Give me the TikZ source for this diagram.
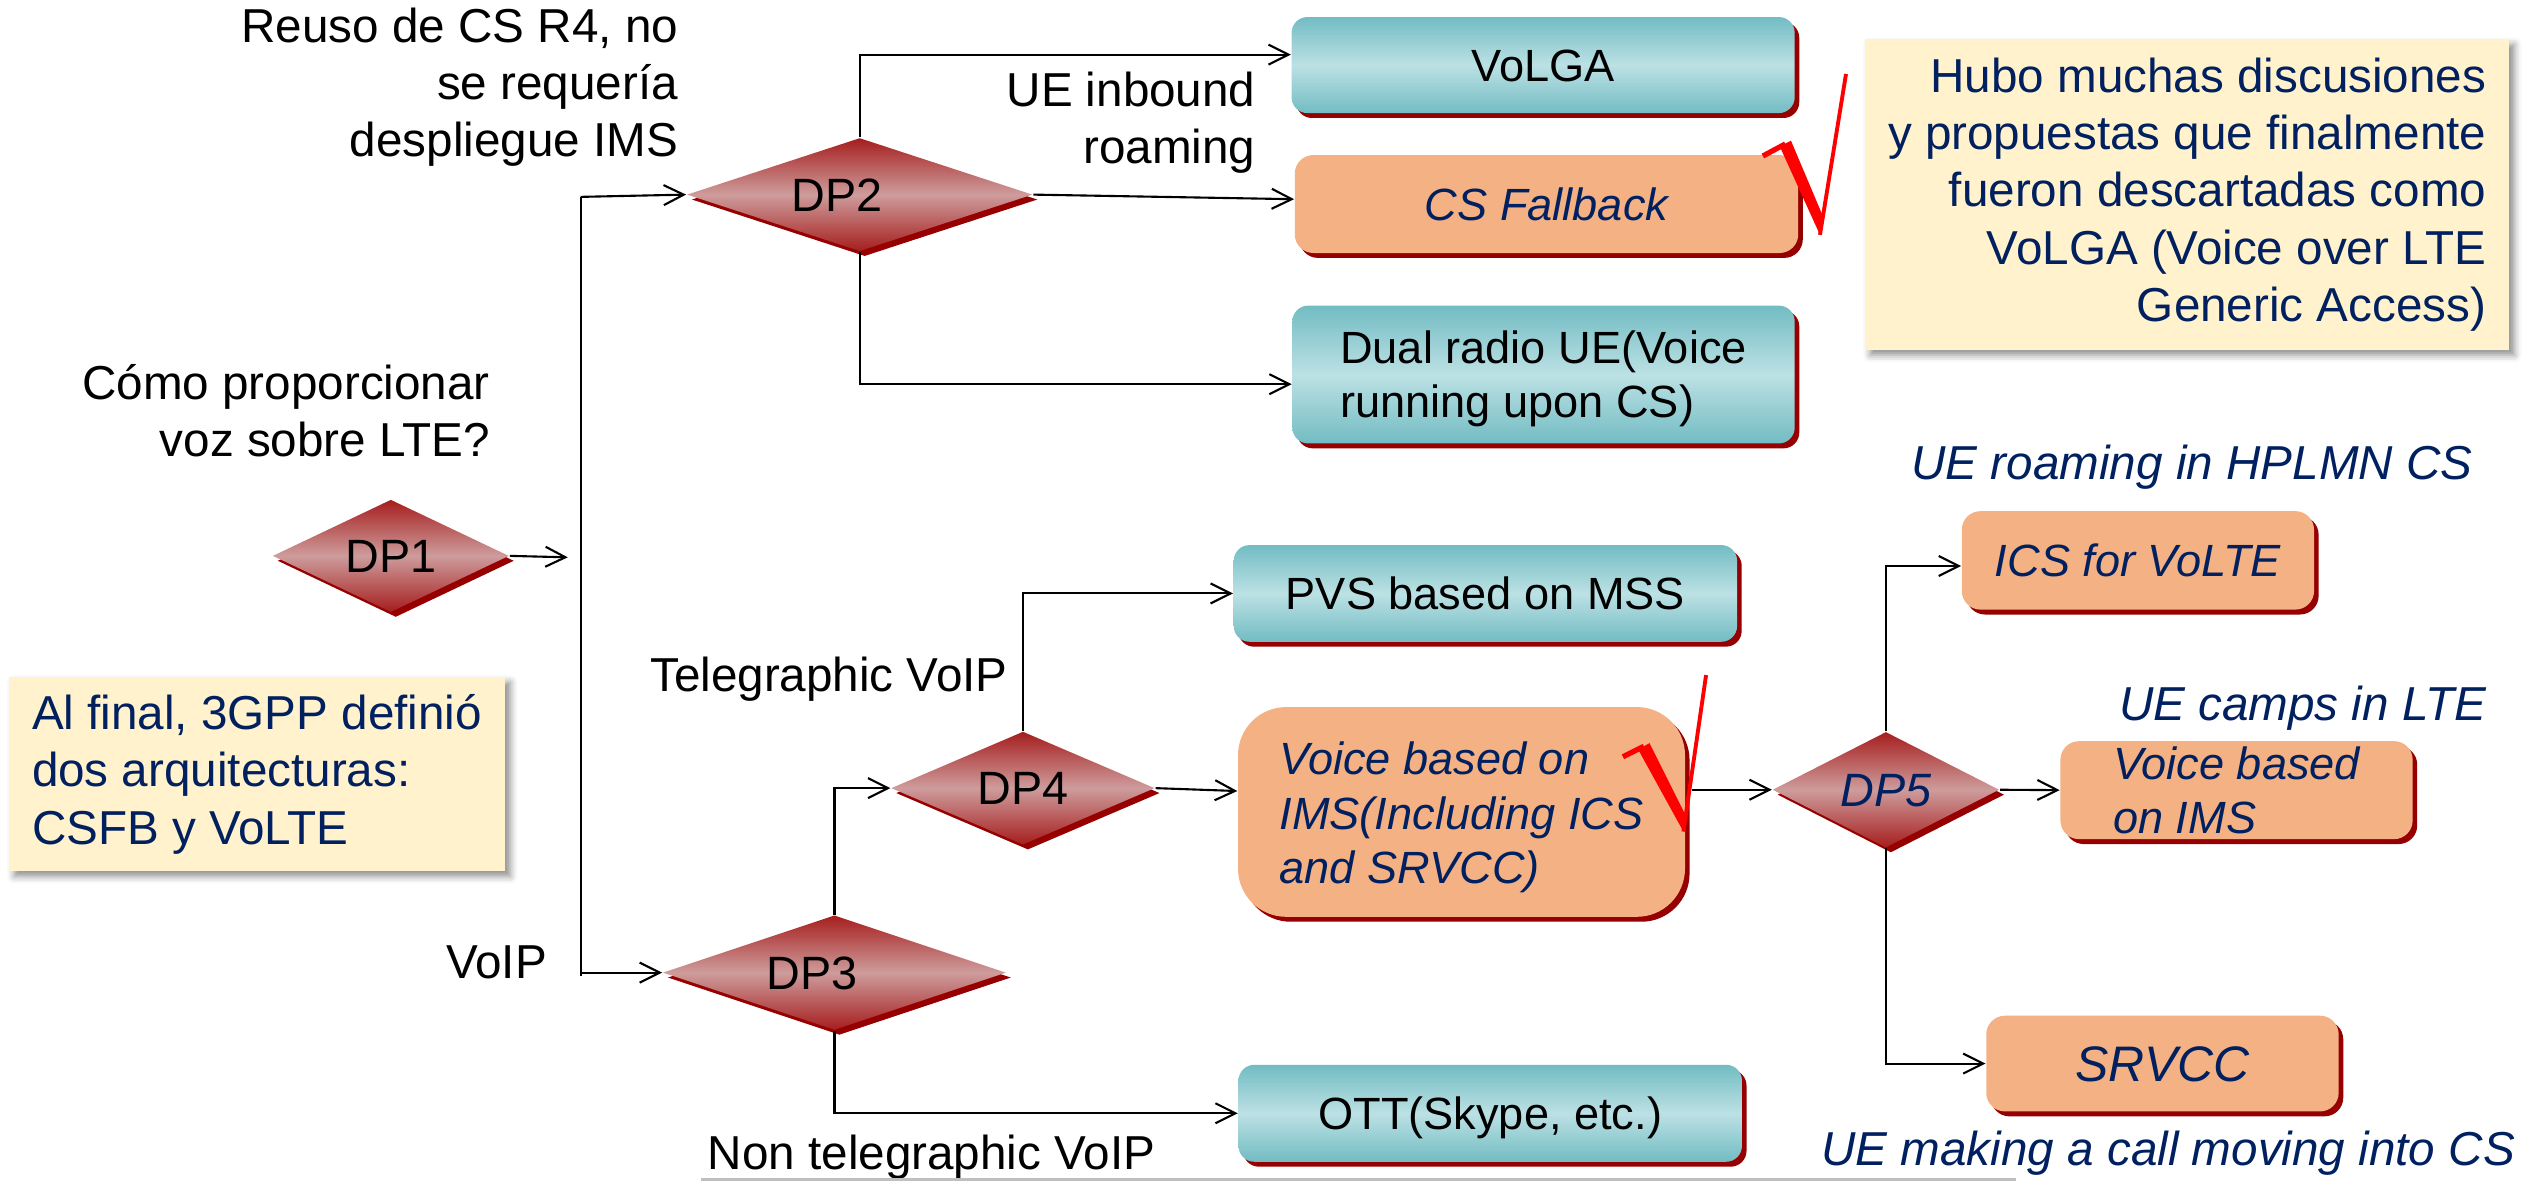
\documentclass[tikz,border=0pt]{standalone}
\usepackage{fontspec}
\setmainfont{Liberation Sans}
\usetikzlibrary{shapes.geometric,arrows.meta,shadows,shadows.blur,calc}
\newlength{\pxu}\setlength{\pxu}{0.45766pt}
\definecolor{navy}{RGB}{0,32,96}
\definecolor{dpdark}{RGB}{166,30,30}
\definecolor{dplight}{RGB}{206,156,156}
\definecolor{dpshadow}{RGB}{150,0,0}
\definecolor{tealdark}{RGB}{114,188,195}
\definecolor{teallight}{RGB}{188,225,228}
\definecolor{peach}{RGB}{244,177,131}
\definecolor{boxshadow}{RGB}{150,0,0}
\definecolor{notefill}{RGB}{255,242,204}
\definecolor{rulegray}{RGB}{191,191,191}
\definecolor{chkred}{RGB}{255,0,0}
\tikzset{
  lab/.style={inner sep=0pt, font=\fontsize{13.55}{16.2}\selectfont},
  labit/.style={inner sep=0pt, text=navy, font=\fontsize{13.55}{16.2}\selectfont\itshape},
  conn/.style={line width=0.6pt, -{Straight Barb[length=5.7pt,width=5.7pt]}},
  plainline/.style={line width=0.6pt},
  dpbox/.style={diamond, shape aspect=3, inner sep=0pt,
    top color=dpdark, bottom color=dpdark, middle color=dplight,
    general shadow={fill=dpshadow, shadow xshift=1.4pt, shadow yshift=-1.4pt},
    font=\fontsize{13.3}{16}\selectfont, text height=9.5pt, text depth=0pt},
  dpit/.style={text=navy, font=\fontsize{13.3}{16}\selectfont\itshape},
  tealbox/.style={rectangle, rounded corners=4.5pt, inner sep=0pt,
    top color=tealdark, bottom color=tealdark, middle color=teallight,
    general shadow={fill=boxshadow, shadow xshift=1.3pt, shadow yshift=-1.4pt},
    font=\fontsize{12.85}{15.5}\selectfont},
  orangebox/.style={rectangle, rounded corners=5.3pt, inner sep=0pt, fill=peach,
    general shadow={fill=boxshadow, shadow xshift=1.3pt, shadow yshift=-1.4pt},
    text=navy, font=\fontsize{12.85}{15.5}\selectfont\itshape},
  oneline/.style={text height=9.2pt, text depth=0pt},
  notebox/.style={rectangle, fill=notefill, inner sep=0pt,
    blur shadow={shadow xshift=1.5pt, shadow yshift=-1.5pt, shadow blur radius=2pt, shadow opacity=45},
    text=navy, font=\fontsize{13.55}{16.3}\selectfont},
  chk/.style={draw=chkred},
}
\begin{document}
\begin{tikzpicture}[x=0.45766pt, y=-0.45766pt]
\useasboundingbox (0,0) rectangle (1568,735);

% notes
\node[notebox, align=left, minimum width=308.4*\pxu, minimum height=120.6*\pxu] (noteL) at (159.8,481.3)
  {Al final, 3GPP definió\\dos arquitecturas:\\CSFB y VoLTE};
\node[notebox, align=right, minimum width=400.4*\pxu, minimum height=193.1*\pxu] (noteR) at (1359.8,121)
  {Hubo muchas discusiones\\y propuestas que finalmente\\fueron descartadas como\hspace*{0.278em}\\VoLGA (Voice over LTE\hspace*{0.278em}\\Generic Access)};

% diamonds
\node[dpbox, minimum width=147*\pxu, minimum height=70*\pxu] (dp1) at (243,345.6) {DP1};
\node[dpbox, minimum width=215*\pxu, minimum height=70.5*\pxu] (dp2) at (534.5,121) {DP2\hspace*{28\pxu}};
\node[dpbox, minimum width=213.5*\pxu, minimum height=71.4*\pxu] (dp3) at (518.8,604.7) {DP3\hspace*{28\pxu}};
\node[dpbox, minimum width=164*\pxu, minimum height=70.4*\pxu] (dp4) at (636,490) {DP4};
\node[dpbox, dpit, minimum width=141*\pxu, minimum height=72*\pxu] (dp5) at (1172.5,491) {DP5};

% boxes
\node[tealbox, oneline, minimum width=312.8*\pxu, minimum height=59.7*\pxu] (volga) at (959.4,40.45) {VoLGA};
\node[orangebox, oneline, minimum width=313*\pxu, minimum height=60.9*\pxu] (csfb) at (961.5,126.85) {CS Fallback};
\node[tealbox, align=left, minimum width=312.3*\pxu, minimum height=85.7*\pxu] (dual) at (959.65,232.85) {\rule{0pt}{11.9pt}Dual radio UE(Voice\\running upon CS)};
\node[tealbox, oneline, minimum width=313*\pxu, minimum height=60.1*\pxu] (pvs) at (923.5,368.95) {PVS based on MSS};
\node[orangebox, rounded corners=13.7pt, align=left, minimum width=277.9*\pxu, minimum height=130.4*\pxu] (ims) at (908.65,504.8) {\rule{0pt}{12.6pt}Voice based on\\IMS(Including ICS\\and SRVCC)};
\node[tealbox, oneline, minimum width=313*\pxu, minimum height=60.3*\pxu] (ott) at (926.5,692.15) {OTT(Skype, etc.)};
\node[orangebox, oneline, minimum width=219*\pxu, minimum height=61.2*\pxu] (ics) at (1329.2,348.4) {ICS for VoLTE};
\node[orangebox, align=left, minimum width=219*\pxu, minimum height=60.9*\pxu] (ims2) at (1390.5,491.25) {Voice based\\on IMS};
\node[orangebox, text height=10.17pt, text depth=0pt, font=\fontsize{14.2}{17}\selectfont\itshape, minimum width=219.1*\pxu, minimum height=59.5*\pxu] (srvcc) at (1344.45,661.25) {SRVCC};

% labels (multi-line: base anchor = last line)
\node[lab, anchor=base east, align=right] (reuso) at (422,97.5) {Reuso de CS R4, no\\se requería\\despliegue IMS};
\node[lab, anchor=base east, align=right] (como) at (305,284) {Cómo proporcionar\\voz sobre LTE?};
\node[lab, anchor=base east, align=right] (inbound) at (781,101.5) {UE inbound\\roaming};
\node[lab, anchor=base west] (teleg) at (403.8,430) {Telegraphic VoIP};
\node[lab, anchor=base west] (voip) at (277,608.5) {VoIP};
\node[lab, anchor=base west] (nontel) at (439.6,727.4) {Non telegraphic VoIP};
\node[labit, anchor=base west] (uerh) at (1188,298) {UE roaming in HPLMN CS};
\node[labit, anchor=base west] (uecamp) at (1317,448) {UE camps in LTE};
\node[labit, anchor=base west] (uecall) at (1132,724.5) {UE making a call moving into CS};

% connectors
\coordinate (ttop) at (361,122.4);
\coordinate (tbot) at (361,607);
\coordinate (j1) at (353,346.5);
\draw[plainline] (ttop) -- (tbot);
\draw[conn] (dp1.east) -- (j1);
\draw[conn] (ttop) -- (dp2.west);
\draw[conn] (dp3.west -| ttop) -- (dp3.west);
\draw[conn] (dp2.north) |- ($(volga.west)+(0,-6.5)$);
\draw[conn] (dp2.east) -- ($(csfb.west)+(0,-3)$);
\draw[conn] (dp2.south) |- ($(dual.west)+(0,6)$);
\draw[conn] (dp3.north) |- (dp4.west);
\draw[conn] (dp3.south) |- (ott.west);
\draw[conn] (dp4.north) |- (pvs.west);
\draw[conn] (dp4.east) -- ($(ims.west)+(0,-13)$);
\draw[conn] ($(ims.east |- dp5.west)+(4,0)$) -- (dp5.west);
\draw[conn] (dp5.east) -- (ims2.west);
\draw[conn] (dp5.north) |- ($(ics.west)+(0,3.5)$);
\draw[conn] (dp5.south) |- (srvcc.west);

% bottom rule
\draw[rulegray, line width=0.85pt] (436,733.6) -- (1253.3,733.6);

% check marks
\draw[chk, line width=1.5pt] (1096,97) -- (1110,89.5);
\fill[chkred] (1106.5,91) -- (1113.5,87.5) -- (1134,136) -- (1131.5,146) -- cycle;
\draw[chk, line width=1.1pt] (1131.5,146) -- (1147.7,46);
\draw[chk, line width=1.5pt] (1009,470.5) -- (1022,464);
\fill[chkred] (1018.5,466) -- (1025.5,462) -- (1049,509) -- (1046.6,517) -- cycle;
\draw[chk, line width=1.1pt] (1046.6,517) -- (1060.7,419.7);
\end{tikzpicture}
\end{document}
